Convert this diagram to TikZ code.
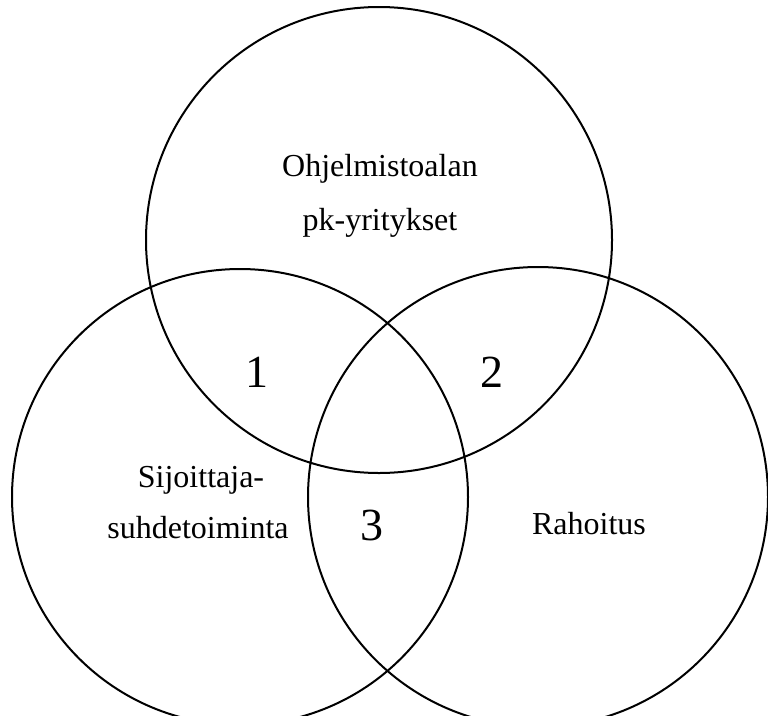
\documentclass[tikz,border=0pt]{standalone}
\usepackage{fontspec}
\setmainfont{Liberation Serif}
\begin{document}
\begin{tikzpicture}[x=1pt,y=-1pt,
  setcircle/.style={draw=black,line width=2pt},
  label/.style={font=\fontsize{32}{32}\selectfont,inner sep=0pt,anchor=base},
  num/.style={font=\fontsize{46}{46}\selectfont,inner sep=0pt,anchor=base}]
\useasboundingbox (0,0) rectangle (768,715);
\clip (0,0) rectangle (768,715);
% the three sets
\draw[setcircle] (379,240) circle (233);
\draw[setcircle] (240,497) circle (228);
\draw[setcircle] (538,497) circle (230);
% set names
\node[label] (top1) at (380,176) {Ohjelmistoalan};
\node[label] (top2) at (380,230) {pk-yritykset};
\node[label] (left1) at (201,487) {Sijoittaja-};
\node[label] (left2) at (198,538) {suhdetoiminta};
\node[label] (right1) at (589,534) {Rahoitus};
% overlap numbers
\node[num] (n1) at (257,387) {1};
\node[num] (n2) at (492,387) {2};
\node[num] (n3) at (372,540) {3};
\end{tikzpicture}
\end{document}
